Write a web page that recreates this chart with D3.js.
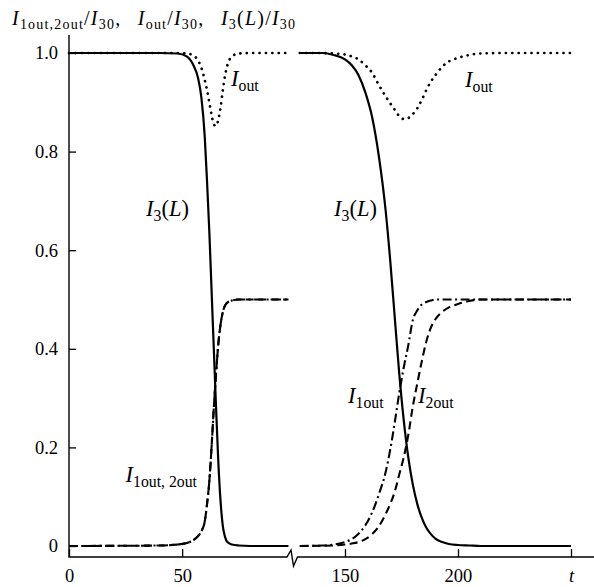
<!DOCTYPE html>
<html><head><meta charset="utf-8">
<script src="https://cdn.jsdelivr.net/npm/d3@7"></script>
<style>
body{margin:0;background:#fff;}
svg text{font-family:"Liberation Serif","Times New Roman","DejaVu Serif",serif;fill:#000;}
</style></head>
<body><svg id="c" width="594" height="587"></svg>
<script>
// ---- data ----
const tLeft  = [0, 40, 48, 52, 55, 57, 58.5, 60, 61, 62, 63, 64, 65, 66, 67, 68, 69, 70, 72, 75, 80, 97];
const i3Left = [1, 1, 0.999, 0.993, 0.975, 0.95, 0.91, 0.83, 0.74, 0.64, 0.52, 0.40, 0.28, 0.17, 0.09, 0.04, 0.018, 0.008, 0.003, 0.001, 0, 0];
const i12Left = [0, 0.001, 0.003, 0.006, 0.012, 0.02, 0.03, 0.05, 0.085, 0.13, 0.2, 0.28, 0.35, 0.41, 0.45, 0.475, 0.488, 0.494, 0.498, 0.5, 0.5, 0.5];
const ioutLeft = [1, 1, 1, 0.999, 0.995, 0.985, 0.97, 0.945, 0.925, 0.9, 0.875, 0.855, 0.852, 0.865, 0.89, 0.925, 0.955, 0.975, 0.993, 0.999, 1, 1];

const tRight  = [130, 140, 145, 150, 153, 156, 159, 162, 165, 168, 170, 172, 174, 176, 178, 180, 182, 184, 186, 188, 190, 193, 196, 200, 205, 210, 220, 250];
const i3Right = [1, 1, 0.996, 0.987, 0.975, 0.955, 0.92, 0.87, 0.79, 0.68, 0.58, 0.465, 0.35, 0.255, 0.18, 0.125, 0.085, 0.057, 0.037, 0.024, 0.015, 0.008, 0.004, 0.002, 0.001, 0, 0, 0];
const i1Right = [0, 0.001, 0.003, 0.008, 0.014, 0.025, 0.042, 0.068, 0.105, 0.15, 0.195, 0.25, 0.31, 0.362, 0.407, 0.458, 0.478, 0.49, 0.495, 0.498, 0.5, 0.5, 0.5, 0.5, 0.5, 0.5, 0.5, 0.5];
const i2Right = [0, 0.0005, 0.001, 0.003, 0.005, 0.008, 0.014, 0.024, 0.04, 0.065, 0.085, 0.11, 0.145, 0.18, 0.225, 0.283, 0.33, 0.375, 0.415, 0.443, 0.46, 0.475, 0.484, 0.491, 0.497, 0.5, 0.5, 0.5];
const ioutRight = [1, 1, 0.999, 0.997, 0.993, 0.987, 0.975, 0.96, 0.935, 0.912, 0.898, 0.885, 0.872, 0.866, 0.868, 0.876, 0.888, 0.905, 0.925, 0.942, 0.955, 0.972, 0.983, 0.99, 0.996, 0.999, 1, 1];

const yTicks = [0, 0.2, 0.4, 0.6, 0.8, 1.0];
const xTicksLeft = [0, 50];
const xTicksRight = [150, 200, 250];

// ---- layout ----
const svg = d3.select("#c");
const axX = 69, axBottom = 557, axTop = 35, brk = 293;
const y = d3.scaleLinear().domain([0, 1]).range([546, 53]);
const xL = d3.scaleLinear().domain([0, 99]).range([axX, brk]);
const xR = d3.scaleLinear().domain([127, 250]).range([brk, 571]);
const FONT = "Liberation Serif";

// axes lines
svg.append("path")
  .attr("d", `M${axX},${axTop}V${axBottom}H287L291,550L293.5,566L297.5,${axBottom}H594`)
  .attr("fill", "none").attr("stroke", "#000").attr("stroke-width", 1.4);

// y axis ticks
const yAxis = d3.axisLeft(y).tickValues(yTicks).tickSizeInner(-7).tickSizeOuter(0).tickPadding(11)
  .tickFormat(d => d === 0 ? "0" : d3.format(".1f")(d));
const gy = svg.append("g").attr("transform", `translate(${axX},0)`).call(yAxis)
  .attr("font-family", FONT).attr("font-size", 18.5);
gy.select(".domain").remove();
gy.selectAll("line").attr("stroke-width", 1.3);

function xAxis(scale, ticks) {
  const a = d3.axisBottom(scale).tickValues(ticks).tickSizeInner(-8).tickSizeOuter(0).tickPadding(12)
    .tickFormat(d => d === 250 ? "t" : String(d));
  const g = svg.append("g").attr("transform", `translate(0,${axBottom})`).call(a)
    .attr("font-family", FONT).attr("font-size", 18.5);
  g.select(".domain").remove();
  g.selectAll("line").attr("stroke-width", 1.3);
  g.selectAll("text").attr("font-style", d => d === 250 ? "italic" : "normal");
}
xAxis(xL, xTicksLeft);
xAxis(xR, xTicksRight);

// ---- lines ----
const styles = {
  solid: {dash: null, w: 2.2, cap: "butt"},
  dotted: {dash: "0.1 6.3", w: 2.7, cap: "round"},
  dashed: {dash: "8 4.5", w: 2.1, cap: "butt"},
  dashdot: {dash: "9 3.5 2 3.5", w: 2.1, cap: "butt"}
};
function drawLine(ts, vs, xs, st) {
  const data = ts.map((t, i) => [t, vs[i]]);
  const line = d3.line().x(d => xs(d[0])).y(d => y(d[1])).curve(d3.curveMonotoneX);
  const s = styles[st];
  svg.append("path").datum(data).attr("d", line)
    .attr("fill", "none").attr("stroke", "#000").attr("stroke-width", s.w)
    .attr("stroke-linecap", s.cap).attr("stroke-dasharray", s.dash);
}
drawLine(tLeft, ioutLeft, xL, "dotted");
drawLine(tLeft, i12Left, xL, "dashed");
drawLine(tLeft, i12Left, xL, "dashdot");
drawLine(tLeft, i3Left, xL, "solid");
drawLine(tRight, ioutRight, xR, "dotted");
drawLine(tRight, i2Right, xR, "dashed");
drawLine(tRight, i1Right, xR, "dashdot");
drawLine(tRight, i3Right, xR, "solid");

// ---- labels ----
function label(x, yb, parts, size, anchor) {
  const t = svg.append("text").attr("x", x).attr("y", yb).attr("font-size", size)
    .attr("font-family", FONT).attr("text-anchor", anchor || "start");
  parts.forEach(p => {
    const ts = t.append("tspan").text(p.t);
    if (p.i) ts.attr("font-style", "italic");
    if (p.s) ts.attr("font-size", size * 0.7).attr("dy", size * 0.2);
    if (p.u) ts.attr("dy", -size * 0.2);
  });
  return t;
}
// title
label(12, 25, [
  {t: "I", i: 1}, {t: "1out,2out", s: 1}, {t: "/", u: 1}, {t: "I", i: 1}, {t: "30", s: 1},
  {t: ",\u2002\u2009", u: 1}, {t: "I", i: 1}, {t: "out", s: 1}, {t: "/", u: 1}, {t: "I", i: 1}, {t: "30", s: 1},
  {t: ",\u2002\u2009", u: 1}, {t: "I", i: 1}, {t: "3", s: 1}, {t: "(", u: 1}, {t: "L", i: 1}, {t: ")/"}, {t: "I", i: 1}, {t: "30", s: 1}
], 20).attr("textLength", 283).attr("lengthAdjust", "spacing");
label(231, 86, [{t: "I", i: 1}, {t: "out", s: 1}], 22.5);
label(465, 87, [{t: "I", i: 1}, {t: "out", s: 1}], 22.5);
label(189, 216, [{t: "I", i: 1}, {t: "3", s: 1}, {t: "(", u: 1}, {t: "L", i: 1}, {t: ")"}], 22.5, "end");
label(377, 216, [{t: "I", i: 1}, {t: "3", s: 1}, {t: "(", u: 1}, {t: "L", i: 1}, {t: ")"}], 22.5, "end");
label(197, 482, [{t: "I", i: 1}, {t: "1out, 2out", s: 1}], 22.5, "end");
label(348, 403, [{t: "I", i: 1}, {t: "1out", s: 1}], 22.5);
label(418, 403, [{t: "I", i: 1}, {t: "2out", s: 1}], 22.5);
</script></body></html>
